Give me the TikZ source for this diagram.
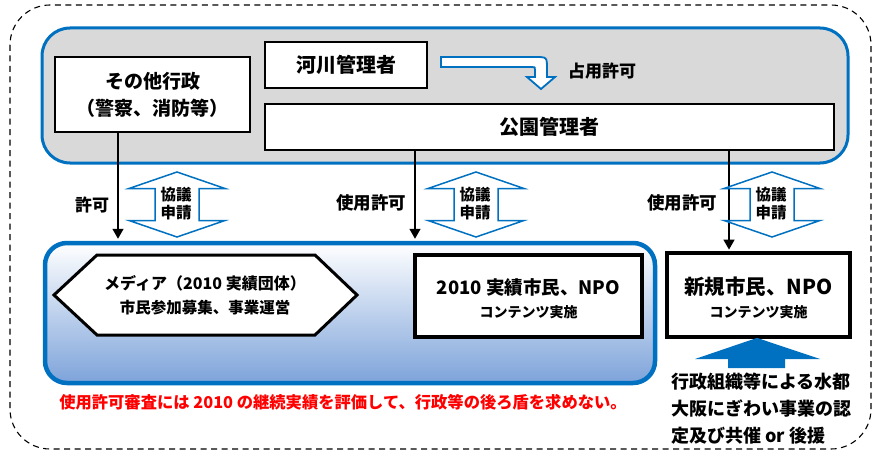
\documentclass[tikz,border=0pt]{standalone}
\usepackage{fontspec}
\setmainfont{Noto Sans CJK JP}
\usetikzlibrary{calc,arrows.meta}
\definecolor{cblue}{RGB}{0,112,192}
\definecolor{cgray}{RGB}{217,217,217}
\definecolor{cgrad}{RGB}{125,163,218}
\newcommand{\fs}[1]{\fontsize{#1}{#1}\selectfont}
\begin{document}
\begin{tikzpicture}[x=1pt,y=-1pt, font=\bfseries,
  box/.style={draw=black, fill=white, line width=1.5pt, inner sep=0pt},
  thickbox/.style={draw=black, fill=white, line width=3.8pt, inner sep=0pt},
  conn/.style={line width=1.5pt, -{Triangle[length=10pt,width=11pt]}},
  lbl/.style={inner sep=0pt},
  dblarrow/.pic={\draw[cblue, line width=1.5pt, fill=white]
      (0,-32.5) -- (48,-16) -- (22,-16) -- (22,16) -- (48,16) -- (0,32.5)
      -- (-48,16) -- (-22,16) -- (-22,-16) -- (-48,-16) -- cycle;}
]
\useasboundingbox (0,0) rectangle (873,452);
% outer dashed frame
\draw[line width=1.1pt, dash pattern=on 6pt off 4.5pt, rounded corners=40pt] (10,5) rectangle (871,449);

% top admin area
\node[draw=cblue, fill=cgray, line width=3pt, rounded corners=28pt, minimum width=806pt, minimum height=135pt, inner sep=0pt] (admin) at (445,95.5) {};
\node[box, minimum width=195pt, minimum height=75pt, align=center, font=\bfseries\fontsize{19}{27}\selectfont] (sonota) at (152.5,94.5) {その他行政\\（警察、消防等）};
\node[box, minimum width=162pt, minimum height=46pt, font=\bfseries\fs{20}] (kasen) at (346,65) {河川管理者};
\node[box, minimum width=569pt, minimum height=46pt, font=\bfseries\fs{20}] (park) at (549.5,127) {};
\node[lbl, font=\bfseries\fs{20}] (parklbl) at (549.5,127) {公園管理者};

% bent arrow
\draw[cblue, line width=1.8pt, fill=white, line join=miter]
  (441,57) -- (535,57) .. controls (547,57) .. (547,69) -- (547,77) -- (555,77)
  -- (541,89) -- (527,77) -- (535,77) -- (535,70) .. controls (535,67) .. (532,67) -- (441,67) -- cycle;
\node[lbl, font=\bfseries\fs{17}] (senyo) at (602,71) {占用許可};

% bottom blue box
\node[draw=cblue, line width=4.5pt, rounded corners=22pt, top color=white, middle color=white!72!cgrad, bottom color=cgrad, minimum width=610pt, minimum height=140pt, inner sep=0pt] (bottom) at (350,313) {};

% hexagon
\draw[line width=3pt, fill=white, line join=miter] (54,295) -- (97,255) -- (315,255) -- (357,295) -- (315,335) -- (97,335) -- cycle;
\node[lbl, font=\bfseries\fs{16}] (hexa1) at (205,283) {メディア（2010 実績団体）};
\node[lbl, font=\bfseries\fs{15.5}] (hexa2) at (205,308) {市民参加募集、事業運営};

% 2010 box
\node[thickbox, minimum width=227pt, minimum height=82pt] (jisseki) at (528.5,296) {};
\node[lbl, font=\bfseries\fs{18.5}] (jis1) at (528.5,287) {2010 実績市民、NPO};
\node[lbl, font=\bfseries\fs{14}] (jis2) at (528.5,312) {コンテンツ実施};

% new box
\node[thickbox, minimum width=183pt, minimum height=84pt] (shinki) at (758.5,295) {};
\node[lbl, font=\bfseries\fs{20.5}] (shi1) at (758.5,287) {新規市民、NPO};
\node[lbl, font=\bfseries\fs{14}] (shi2) at (758.5,312) {コンテンツ実施};

% connectors
\coordinate (a1) at (118,0);
\coordinate (a2) at (415,0);
\coordinate (a3) at (729,0);
\draw[conn] (sonota.south -| a1) -- ($(a1 |- bottom.north)+(0,-2)$);
\draw[conn] (park.south -| a2) -- ($(a2 |- bottom.north)+(0,-2)$);
\draw[conn] (park.south -| a3) -- ($(a3 |- shinki.north)+(0,-1.5)$);

\node[lbl, font=\bfseries\fs{17}] (kyoka1) at (92,205) {許可};
\node[lbl, font=\bfseries\fs{17.5}] (kyoka2) at (371,203) {使用許可};
\node[lbl, font=\bfseries\fs{17.5}] (kyoka3) at (682,203) {使用許可};

% double arrows
\pic at (177,204.5) {dblarrow};
\pic at (476,204.5) {dblarrow};
\pic at (772,204.5) {dblarrow};
\node[lbl, align=center, font=\bfseries\fontsize{15.5}{18}\selectfont] (kg1) at (176,204) {協議\\申請};
\node[lbl, align=center, font=\bfseries\fontsize{15.5}{18}\selectfont] (kg2) at (475,204) {協議\\申請};
\node[lbl, align=center, font=\bfseries\fontsize{15.5}{18}\selectfont] (kg3) at (771,204) {協議\\申請};

% up arrow
\fill[cblue] (shinki.south) ++(-1.5,-1) coordinate (uptip) -- (820,359) -- (785,359) -- (785,368) -- (728,368) -- (728,359) -- (695,359) -- cycle;

% right text
\node[lbl, anchor=west, align=left, font=\bfseries\fontsize{18}{27}\selectfont] (support) at (671,409) {行政組織等による水都\\大阪にぎわい事業の認\\定及び共催 or 後援};

% red note
\node[lbl, text=red, font=\bfseries\fs{16.3}] (note) at (343,402) {使用許可審査には 2010 の継続実績を評価して、行政等の後ろ盾を求めない。};
\end{tikzpicture}
\end{document}
